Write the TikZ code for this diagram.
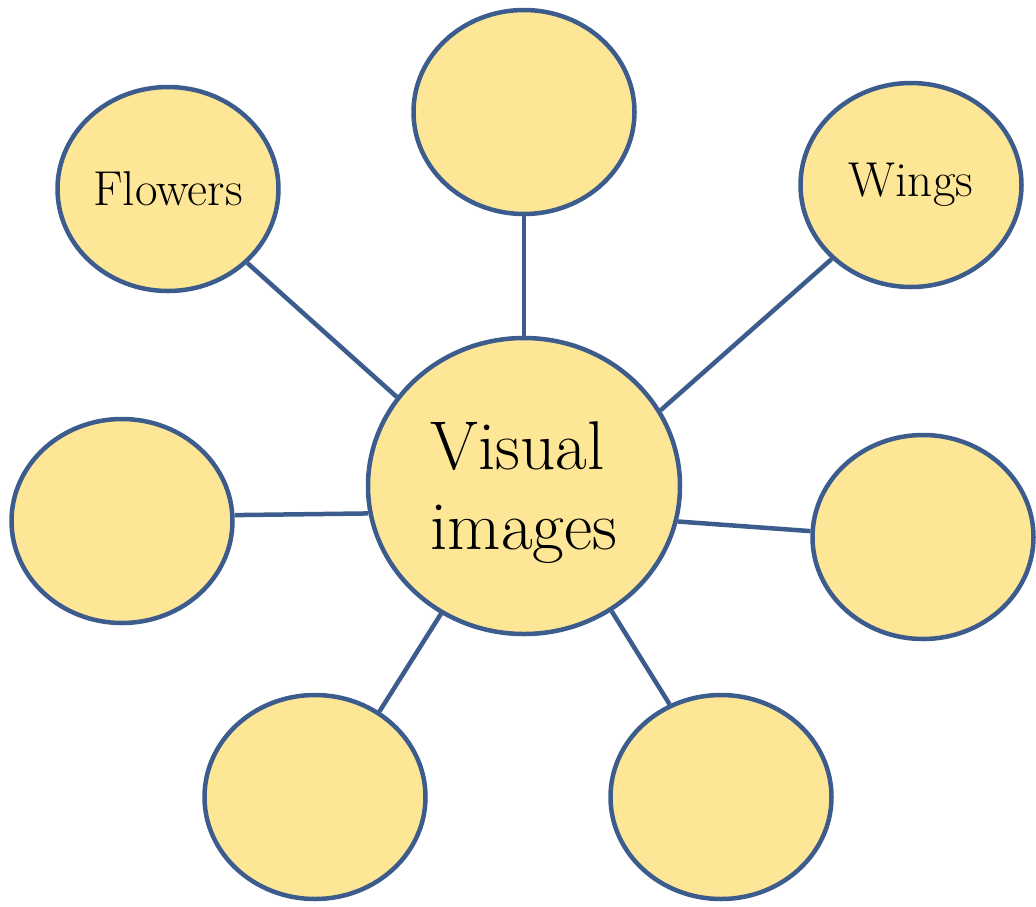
\documentclass[tikz,border=0pt]{standalone}
\usepackage{tikz}
\usetikzlibrary{shapes.geometric}
\usepackage{xcolor}
\definecolor{bubblefill}{RGB}{253,230,150}
\definecolor{bubbleline}{RGB}{59,92,140}

\begin{document}
\begin{tikzpicture}[x=1pt,y=-1pt,
  bubble/.style={ellipse,draw=bubbleline,fill=bubblefill,line width=4.5pt,inner sep=0pt,
    minimum width=221pt,minimum height=204pt,font=\fontsize{49}{58}\selectfont},
  hub/.style={bubble,minimum width=312pt,minimum height=296pt,align=left,
    text depth=0pt,font=\fontsize{69}{80}\selectfont},
  spoke/.style={draw=bubbleline,line width=4.5pt}]
\useasboundingbox (0.000000,0.000000) rectangle (1036.000000,906.000000);
% Drawing hub
\node[hub] (visual) at (524.000000,486.000000) {Visual\\images};
% Drawing bubbles
\node[bubble] (flowers) at (168.000000,189.000000) {Flowers};
\node[bubble] (top) at (524.000000,112.000000) {};
\node[bubble] (wings) at (911.000000,185.000000) {Wings};
\node[bubble] (left) at (122.000000,521.000000) {};
\node[bubble] (right) at (923.000000,537.000000) {};
\node[bubble] (botleft) at (315.000000,797.000000) {};
\node[bubble] (botright) at (721.000000,797.000000) {};
% Done with bubbles; drawing spokes
\draw[spoke] (visual.145.5) -- (flowers.-43.5);
\draw[spoke] (visual.90) -- (top.-90);
\draw[spoke] (visual.29.6) -- (wings.-137.6);
\draw[spoke] (visual.190.4) -- (left.3);
\draw[spoke] (visual.-13.3) -- (right.177);
\draw[spoke] (visual.-123.2) -- (botleft.53.3);
\draw[spoke] (visual.-55.5) -- (botright.119.9);
% Done with spokes
\end{tikzpicture}
\end{document}
